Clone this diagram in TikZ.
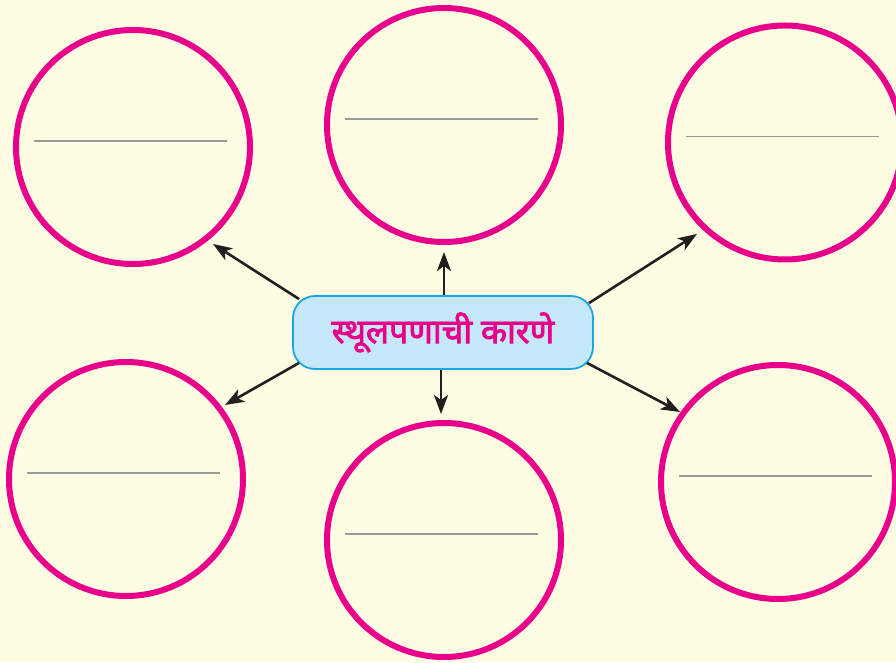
\documentclass[tikz,border=0pt]{standalone}
\usepackage{fontspec}
\newfontfamily\marathifont[Script=Devanagari, FakeBold=2.5]{Noto Sans}
\usetikzlibrary{arrows.meta}

\definecolor{bgyellow}{HTML}{FEFCE2}
\definecolor{ringpink}{HTML}{E8008A}
\definecolor{boxblue}{HTML}{C5E8F8}
\definecolor{boxline}{HTML}{1AA7E0}
\definecolor{arrowblack}{HTML}{231F20}
\definecolor{blankgray}{HTML}{9B9B9B}

\tikzset{
  ring/.style={circle, draw=ringpink, line width=6pt, minimum size=234pt, inner sep=0pt, outer sep=0pt},
  causebox/.style={draw=boxline, fill=boxblue, line width=1.8pt, rounded corners=22pt,
    minimum width=300pt, minimum height=73pt, inner sep=0pt},
  blank/.style={draw=blankgray, line width=1.8pt},
  link/.style={->, draw=arrowblack, line width=2.6pt}
}

\begin{document}
\begin{tikzpicture}[x=1pt, y=1pt, >={Stealth[length=19pt, width=14pt, inset=5pt]}]

  % Fundo
  \fill[bgyellow] (0,0) rectangle (896,662);
  \useasboundingbox (0,0) rectangle (896,662);

  % Circulos
  \node[ring] (ringA) at (133,515) {};
  \node[ring] (ringB) at (444,537) {};
  \node[ring] (ringC) at (785,519.5) {};
  \node[ring] (ringD) at (126,183) {};
  \node[ring] (ringE) at (444,122) {};
  \node[ring] (ringF) at (778,180) {};

  % Linhas para escrever
  \foreach \r in {ringA, ringB, ringC, ringD, ringE, ringF}
    \draw[blank] ([shift={(-99,6)}]\r.center) -- ++(193,0);

  % Caixa central
  \node[causebox] (cause) at (443,329.5)
    {\marathifont\bfseries\fontsize{34}{40}\selectfont\color{ringpink}स्थूलपणाची कारणे};

  % Pontas das setas
  \coordinate (tipA) at (213,418);
  \coordinate (tipB) at (444,410);
  \coordinate (tipC) at (697,428);
  \coordinate (tipD) at (225,257);
  \coordinate (tipE) at (441,248);
  \coordinate (tipF) at (680,250);

  % Setas
  \draw[link] ([shift={(7,-4)}]cause.north west) -- (tipA);
  \draw[link] ([xshift=1pt]cause.north) -- (tipB);
  \draw[link] ([shift={(-5,-8)}]cause.north east) -- (tipC);
  \draw[link] ([shift={(7,7)}]cause.south west) -- (tipD);
  \draw[link] ([xshift=-2pt]cause.south) -- (tipE);
  \draw[link] ([shift={(-7,7)}]cause.south east) -- (tipF);

\end{tikzpicture}
\end{document}
